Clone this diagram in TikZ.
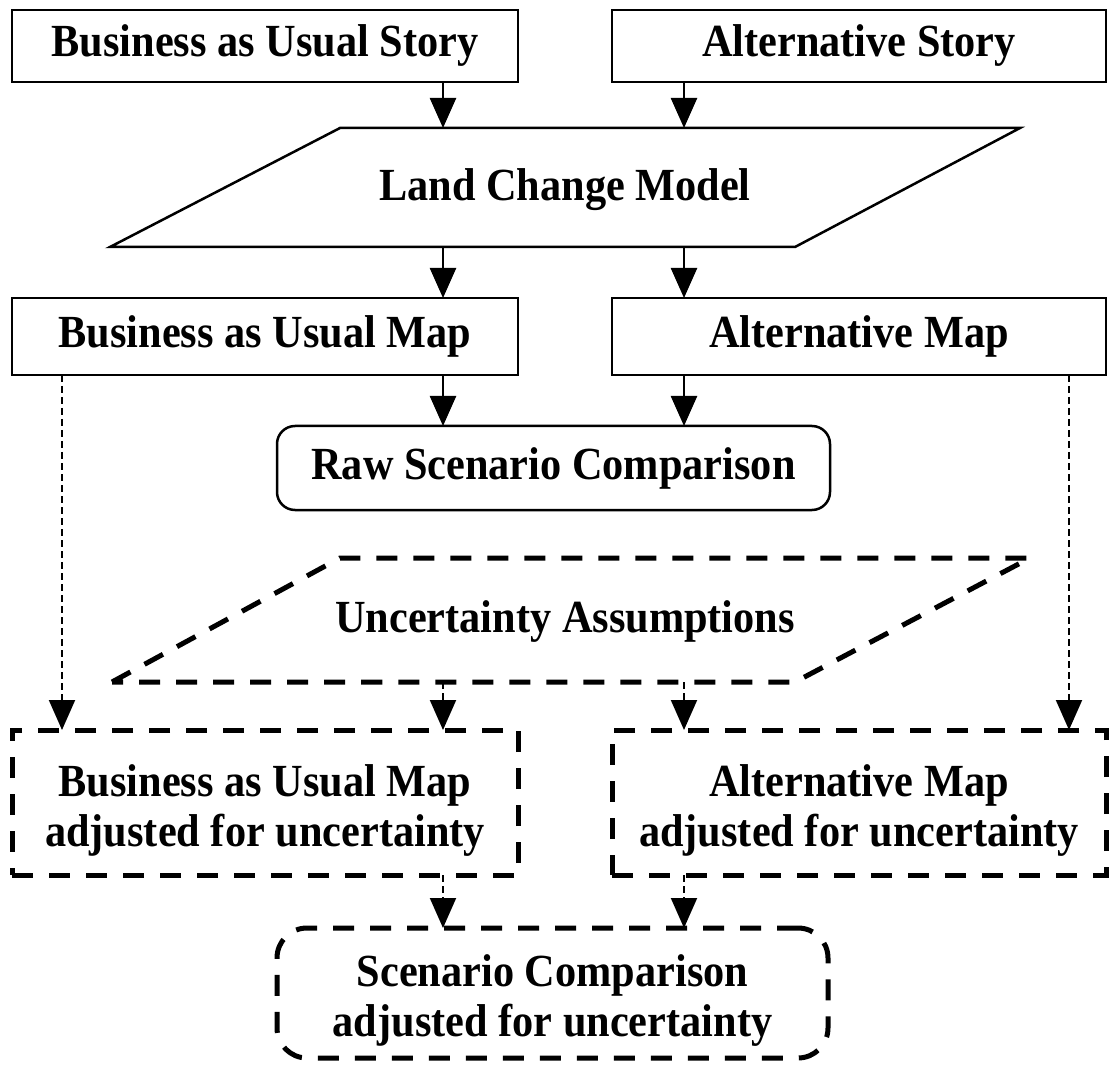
\documentclass[tikz,border=0pt]{standalone}
\usepackage{fontspec}
\setmainfont{Liberation Serif}[FakeStretch=0.92]
\usetikzlibrary{arrows.meta}
\newcommand{\labfont}{\fontsize{46}{50}\selectfont\bfseries}
\newcommand{\topstrut}{\rule{0pt}{47pt}}
\tikzset{
  solidbox/.style={draw, line width=2.5pt, inner sep=0pt, outer sep=0pt, align=center, font=\labfont},
  dashbox/.style={draw, line width=5pt, dash pattern=on 21pt off 16pt, inner sep=0pt, outer sep=0pt, align=center, font=\labfont},
  txt/.style={inner sep=0pt, outer sep=0pt, align=center, font=\labfont},
  arr/.style={line width=2.5pt, -{Triangle[length=30pt,width=26pt]}},
  darr/.style={line width=2pt, dash pattern=on 7pt off 4pt, -{Triangle[length=30pt,width=26pt]}},
  para/.style={draw, line width=2.5pt, line join=miter},
  dpara/.style={draw, line width=5pt, dash pattern=on 21pt off 16pt},
}
\begin{document}
\begin{tikzpicture}[x=1pt,y=-1pt]
\useasboundingbox (0,0) rectangle (1112,1067);
% column positions of connectors
\coordinate (xa) at (443,0);
\coordinate (xb) at (684,0);
\coordinate (xl) at (62,0);
\coordinate (xr) at (1069,0);

% row 1
\node[solidbox, minimum width=506pt, minimum height=72pt] (bau) at (265,46) {Business as Usual Story};
\node[solidbox, minimum width=494pt, minimum height=72pt] (alts) at (859,46) {Alternative Story};

% land change model parallelogram
\coordinate (lcmTL) at (340,128);
\coordinate (lcmTR) at (1020,128);
\coordinate (lcmBR) at (795,247);
\coordinate (lcmBL) at (110,247);
\draw[para] (lcmTL) -- (lcmTR) -- (lcmBR) -- (lcmBL) -- cycle;
\node[txt] (lcm) at (565,190) {Land Change Model};

% maps
\node[solidbox, minimum width=506pt, minimum height=77pt] (baumap) at (265,336.5) {Business as Usual Map};
\node[solidbox, minimum width=494pt, minimum height=77pt] (altmap) at (859,336.5) {Alternative Map};

% raw comparison
\node[solidbox, rounded corners=18pt, minimum width=553pt, minimum height=84pt] (raw) at (553.5,468) {Raw Scenario Comparison};

% uncertainty parallelogram
\coordinate (uncTL) at (340,558);
\coordinate (uncTR) at (1030,558);
\coordinate (uncBR) at (795,682);
\coordinate (uncBL) at (112,682);
\draw[dpara] (uncBL) -- (uncTL) -- (uncTR) -- (uncBR) -- cycle;
\node[txt] (unc) at (565,622) {Uncertainty Assumptions};

% adjusted maps
\node[dashbox, minimum width=506pt, minimum height=145pt] (bauadj) at (265,802.5) {\topstrut Business as Usual Map\\adjusted for uncertainty};
\node[dashbox, minimum width=494pt, minimum height=145pt] (altadj) at (859,802.5) {\topstrut Alternative Map\\adjusted for uncertainty};

% final comparison
\node[dashbox, rounded corners=30pt, minimum width=551pt, minimum height=130pt] (final) at (552.5,993) {\topstrut Scenario Comparison\\adjusted for uncertainty};

% connectors
\draw[arr] (bau.south -| xa) -- (lcmTL -| xa);
\draw[arr] (alts.south -| xb) -- (lcmTL -| xb);
\draw[arr] (lcmBL -| xa) -- (baumap.north -| xa);
\draw[arr] (lcmBL -| xb) -- (altmap.north -| xb);
\draw[arr] (baumap.south -| xa) -- (raw.north -| xa);
\draw[arr] (altmap.south -| xb) -- (raw.north -| xb);

\draw[darr] (baumap.south -| xl) -- (bauadj.north -| xl);
\draw[darr] (altmap.south -| xr) -- (altadj.north -| xr);
\draw[darr] (uncBL -| xa) -- (bauadj.north -| xa);
\draw[darr] (uncBL -| xb) -- (altadj.north -| xb);
\draw[darr] (bauadj.south -| xa) -- (final.north -| xa);
\draw[darr] (altadj.south -| xb) -- (final.north -| xb);
\end{tikzpicture}
\end{document}
